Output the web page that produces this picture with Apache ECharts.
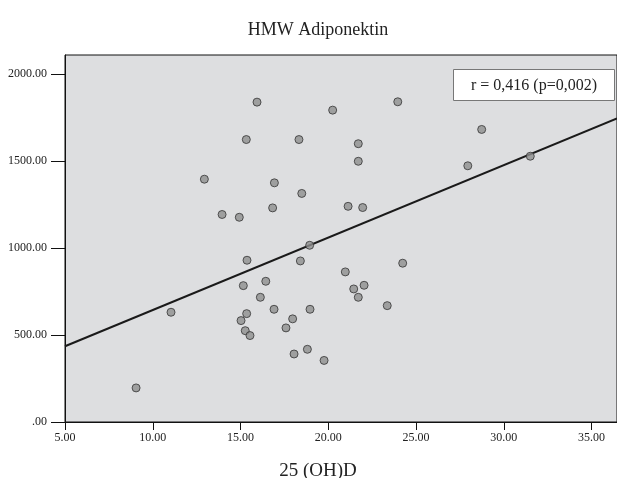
<!DOCTYPE html>
<html lang="en">
<head>
	<meta charset="UTF-8">
	<title>HMW Adiponektin</title>
	<script src="https://cdn.jsdelivr.net/npm/echarts@6/dist/echarts.min.js"></script>
	<style>
		html,body{height:100%;margin:0;background:#fff;}
	</style>
</head>
<body>
	<div id="chart" style="width:617px; height:478px;"></div>
	<script>
	// 25 (OH)D values
	var vitD = [15.94, 20.25, 15.33, 18.33, 21.71, 21.71, 12.94, 16.93, 18.49, 13.95,
		14.93, 16.83, 21.13, 21.96, 18.94, 15.37, 18.41, 20.97, 16.44, 15.16,
		21.45, 22.04, 21.71, 16.13, 11.04, 16.91, 18.96, 15.35, 15.03, 17.97,
		17.59, 15.27, 15.54, 18.05, 18.81, 19.76, 23.96, 28.74, 27.95, 31.51,
		24.24, 23.36, 9.05];
	// HMW Adiponektin values
	var adipo = [1839, 1793, 1624, 1624, 1600, 1499, 1396, 1375, 1314, 1193,
		1177, 1231, 1240, 1233, 1016, 930, 926, 863, 809, 784,
		765, 786, 717, 717, 631, 648, 648, 623, 583, 593,
		541, 525, 497, 391, 418, 354, 1841, 1682, 1473, 1528,
		913, 669, 196];

	var xTicks = [5, 10, 15, 20, 25, 30, 35];
	var yTicks = [0, 500, 1000, 1500, 2000];
	var xMin = 5, xMax = 36.45, yMax = 2110;

	// fit line
	var fitIntercept = 227;
	var fitSlope = 41.65;

	var points = [];
	for (var i = 0; i < vitD.length; i++) {
		points.push([vitD[i], adipo[i]]);
	}
	var fitLine = [
		[xMin, fitIntercept + fitSlope * xMin],
		[xMax, fitIntercept + fitSlope * xMax]
	];

	var serif = '"Liberation Serif", "DejaVu Serif", serif';

	var myChart = echarts.init(document.getElementById('chart'));
	var option = {
		animation: false,
		textStyle: { fontFamily: serif },
		title: [{
			text: 'HMW Adiponektin',
			left: 313,
			top: 16,
			textAlign: 'center',
			textStyle: { fontFamily: serif, fontSize: 18, fontWeight: 'normal', color: '#222' }
		}, {
			text: '25 (OH)D',
			left: 313,
			top: 457,
			textAlign: 'center',
			textStyle: { fontFamily: serif, fontSize: 19, fontWeight: 'normal', color: '#222' }
		}],
		grid: {
			left: 65,
			right: -2,
			top: 55,
			bottom: 56,
			show: true,
			backgroundColor: '#dddee0',
			borderColor: '#111',
			borderWidth: 1
		},
		xAxis: {
			type: 'value',
			min: xMin,
			max: xMax,
			splitLine: { show: false },
			axisLine: { show: true, lineStyle: { color: '#111', width: 1 } },
			axisTick: { show: true, length: 8, customValues: xTicks, lineStyle: { color: '#111' } },
			axisLabel: {
				customValues: xTicks,
				margin: 10,
				fontSize: 12,
				color: '#222',
				fontFamily: serif,
				formatter: function (v) { return v.toFixed(2); }
			}
		},
		yAxis: {
			type: 'value',
			min: 0,
			max: yMax,
			splitLine: { show: false },
			axisLine: { show: true, lineStyle: { color: '#111', width: 1 } },
			axisTick: { show: true, length: 14, customValues: yTicks, lineStyle: { color: '#111' } },
			axisLabel: {
				customValues: yTicks,
				margin: 18,
				fontSize: 12,
				color: '#222',
				fontFamily: serif,
				formatter: function (v) { return v === 0 ? '.00' : v.toFixed(2); }
			}
		},
		graphic: [{
			type: 'group',
			left: 453,
			top: 69,
			children: [{
				type: 'rect',
				shape: { x: 0, y: 0, width: 161, height: 31 },
				style: { fill: '#fff', stroke: '#777', lineWidth: 1 }
			}, {
				type: 'text',
				x: 80.5,
				y: 16,
				style: {
					text: 'r = 0,416 (p=0,002)',
					fill: '#222',
					font: '16px ' + serif,
					textAlign: 'center',
					textVerticalAlign: 'middle'
				}
			}]
		}],
		series: [{
			type: 'line',
			data: fitLine,
			symbol: 'none',
			silent: true,
			lineStyle: { color: '#1a1a1a', width: 2 },
			z: 2
		}, {
			type: 'scatter',
			data: points,
			symbol: 'circle',
			symbolSize: 8,
			itemStyle: { color: '#8f8f8f', borderColor: '#333', borderWidth: 1 },
			z: 3
		}]
	};
	myChart.setOption(option);
	</script>
</body>
</html>
